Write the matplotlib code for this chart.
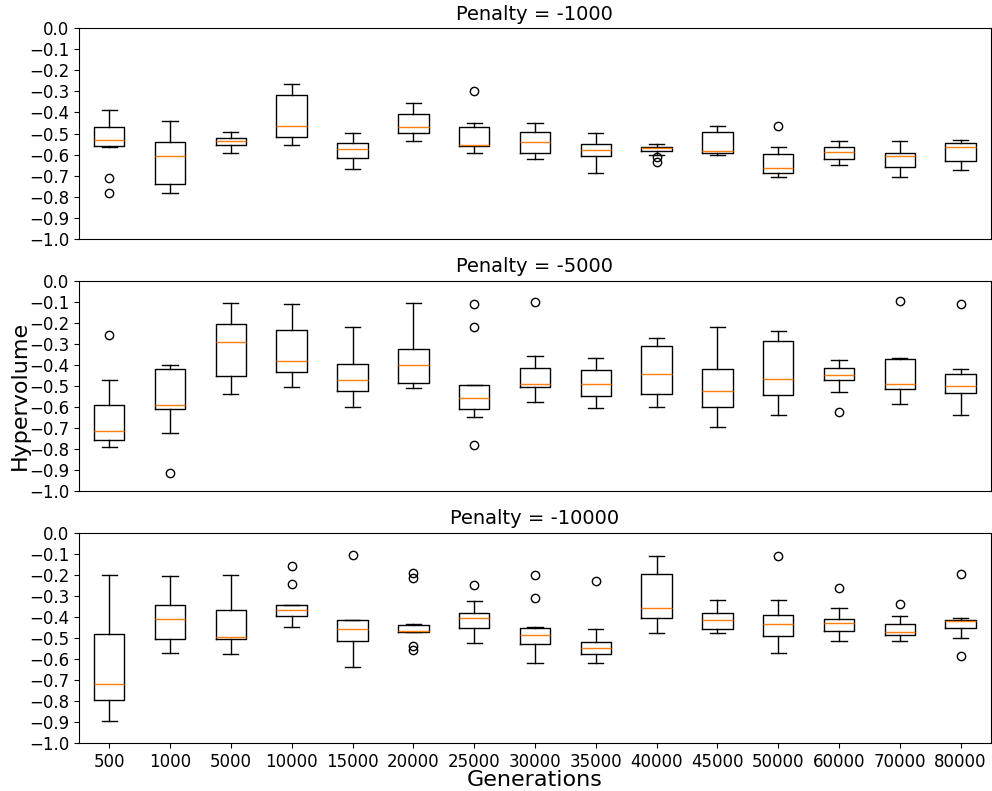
import matplotlib
matplotlib.use("Agg")
import matplotlib.pyplot as plt
import numpy as np

generations = ['500', '1000', '5000', '10000', '15000', '20000', '25000', '30000',
               '35000', '40000', '45000', '50000', '60000', '70000', '80000']
penalties = [-1000, -5000, -10000]

# box statistics per penalty run (one entry per generation count)
# Penalty = -1000
p1_whishi = [-0.388, -0.442, -0.491, -0.263, -0.498, -0.353, -0.449, -0.448,
             -0.497, -0.551, -0.464, -0.565, -0.535, -0.535, -0.529]
p1_q3 = [-0.468, -0.540, -0.521, -0.315, -0.543, -0.408, -0.468, -0.491,
         -0.551, -0.562, -0.495, -0.598, -0.565, -0.595, -0.543]
p1_med = [-0.532, -0.608, -0.536, -0.464, -0.573, -0.467, -0.554, -0.540,
          -0.579, -0.568, -0.581, -0.666, -0.587, -0.609, -0.565]
p1_q1 = [-0.560, -0.742, -0.555, -0.519, -0.617, -0.499, -0.560, -0.593,
         -0.609, -0.581, -0.592, -0.687, -0.619, -0.658, -0.633]
p1_whislo = [-0.565, -0.785, -0.595, -0.554, -0.668, -0.538, -0.593, -0.619,
             -0.690, -0.600, -0.600, -0.706, -0.652, -0.707, -0.674]
p1_fliers = [[-0.711, -0.785], [], [], [], [], [], [-0.298], [],
             [], [-0.612, -0.636], [], [-0.464], [], [], []]

# Penalty = -5000
p2_whishi = [-0.471, -0.403, -0.106, -0.113, -0.222, -0.106, -0.497, -0.360,
             -0.368, -0.271, -0.221, -0.240, -0.379, -0.367, -0.422]
p2_q3 = [-0.592, -0.419, -0.206, -0.235, -0.397, -0.324, -0.498, -0.416,
         -0.427, -0.313, -0.422, -0.289, -0.416, -0.375, -0.446]
p2_med = [-0.717, -0.590, -0.292, -0.381, -0.473, -0.402, -0.557, -0.490,
          -0.490, -0.444, -0.525, -0.468, -0.449, -0.492, -0.502]
p2_q1 = [-0.757, -0.611, -0.456, -0.437, -0.524, -0.486, -0.611, -0.508,
         -0.551, -0.538, -0.602, -0.544, -0.471, -0.516, -0.535]
p2_whislo = [-0.790, -0.724, -0.541, -0.505, -0.600, -0.511, -0.651, -0.575,
             -0.605, -0.602, -0.695, -0.641, -0.532, -0.587, -0.641]
p2_fliers = [[-0.257], [-0.914], [], [], [], [], [-0.110, -0.221, -0.784], [-0.103],
             [], [], [], [], [-0.624], [-0.095], [-0.110]]

# Penalty = -10000
p3_whishi = [-0.201, -0.206, -0.203, -0.342, -0.415, -0.435, -0.326, -0.448,
             -0.457, -0.109, -0.321, -0.321, -0.356, -0.396, -0.407]
p3_q3 = [-0.483, -0.345, -0.367, -0.343, -0.416, -0.437, -0.381, -0.451,
         -0.519, -0.195, -0.381, -0.389, -0.411, -0.432, -0.415]
p3_med = [-0.720, -0.410, -0.497, -0.367, -0.459, -0.467, -0.405, -0.484,
          -0.546, -0.356, -0.416, -0.434, -0.427, -0.470, -0.418]
p3_q1 = [-0.794, -0.503, -0.505, -0.394, -0.514, -0.473, -0.453, -0.530,
         -0.576, -0.403, -0.456, -0.489, -0.465, -0.487, -0.451]
p3_whislo = [-0.896, -0.571, -0.578, -0.446, -0.639, -0.473, -0.525, -0.619,
             -0.617, -0.475, -0.475, -0.570, -0.514, -0.514, -0.498]
p3_fliers = [[], [], [], [-0.157, -0.245], [-0.104], [-0.190, -0.217, -0.536, -0.557],
             [-0.247], [-0.202, -0.312], [-0.229], [], [], [-0.109], [-0.263], [-0.340],
             [-0.195, -0.585]]

runs = [
    (p1_whislo, p1_q1, p1_med, p1_q3, p1_whishi, p1_fliers),
    (p2_whislo, p2_q1, p2_med, p2_q3, p2_whishi, p2_fliers),
    (p3_whislo, p3_q1, p3_med, p3_q3, p3_whishi, p3_fliers),
]

fig, axes = plt.subplots(3, 1, figsize=(9.92, 7.91), dpi=100)
fig.subplots_adjust(left=0.0795, right=0.999, top=0.9642, bottom=0.0605, hspace=0.199)

for i, (ax, run) in enumerate(zip(axes, runs)):
    lo, q1, med, q3, hi, fl = run
    stats = []
    for k in range(len(generations)):
        stats.append({'whislo': lo[k], 'q1': q1[k], 'med': med[k], 'q3': q3[k],
                      'whishi': hi[k], 'fliers': fl[k]})
    ax.bxp(stats, positions=np.arange(1, len(generations) + 1), showfliers=True)
    ax.set_ylim(-1.0, 0.0)
    ax.set_xlim(0.5, len(generations) + 0.5)
    ax.set_yticks(np.round(np.arange(-1.0, 0.01, 0.1), 1))
    ax.tick_params(axis='both', labelsize=12)
    ax.set_title('Penalty = %d' % penalties[i], fontsize=14)
    if i < 2:
        ax.tick_params(axis='x', bottom=False, labelbottom=False)
    else:
        ax.set_xticks(np.arange(1, len(generations) + 1))
        ax.set_xticklabels(generations)
        ax.set_xlabel('Generations', fontsize=16, labelpad=-0.5)

fig.text(0.02, 0.5, 'Hypervolume', rotation=90, va='center', ha='center', fontsize=16)

plt.savefig('out.png', dpi=100)
